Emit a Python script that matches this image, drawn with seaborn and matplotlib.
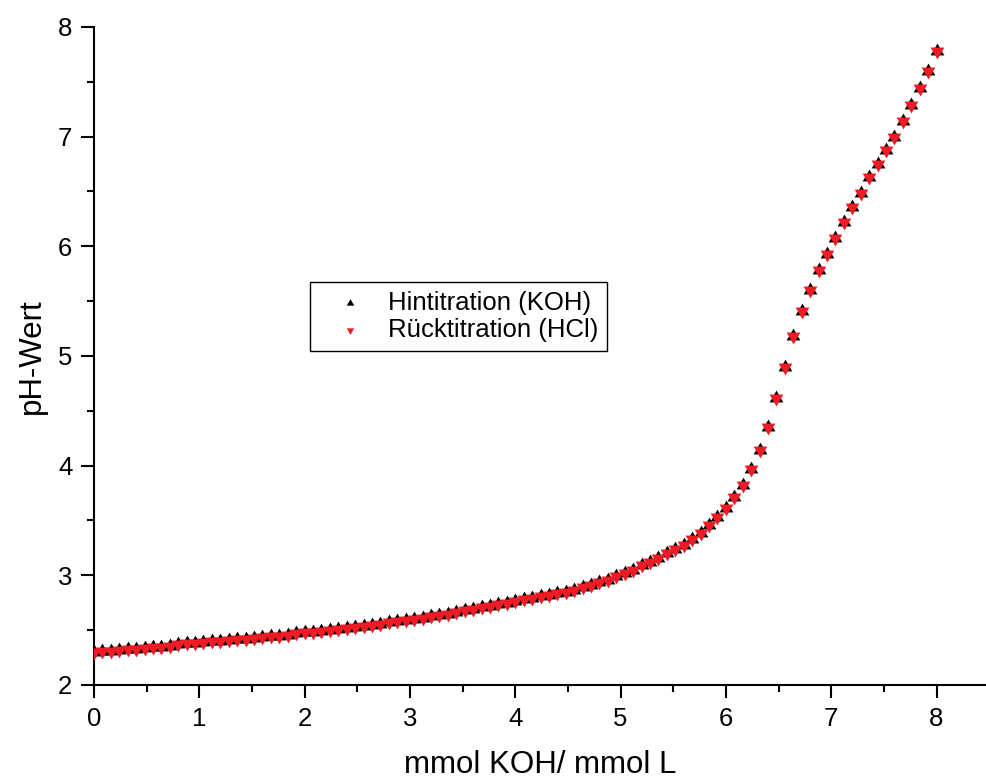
import numpy as np
import pandas as pd
import matplotlib
matplotlib.use("Agg")
import matplotlib.pyplot as plt
from matplotlib.markers import MarkerStyle
from matplotlib.ticker import MultipleLocator
import seaborn as sns

# mmol KOH / mmol L (Schrittweite 0.08)
menge = [0.00, 0.08, 0.16, 0.24, 0.32, 0.40, 0.48, 0.56, 0.64, 0.72,
         0.80, 0.88, 0.96, 1.04, 1.12, 1.20, 1.28, 1.36, 1.44, 1.52,
         1.60, 1.68, 1.76, 1.84, 1.92, 2.00, 2.08, 2.16, 2.24, 2.32,
         2.40, 2.48, 2.56, 2.64, 2.72, 2.80, 2.88, 2.96, 3.04, 3.12,
         3.20, 3.28, 3.36, 3.44, 3.52, 3.60, 3.68, 3.76, 3.84, 3.92,
         4.00, 4.08, 4.16, 4.24, 4.32, 4.40, 4.48, 4.56, 4.64, 4.72,
         4.80, 4.88, 4.96, 5.04, 5.12, 5.20, 5.28, 5.36, 5.44, 5.52,
         5.60, 5.68, 5.76, 5.84, 5.92, 6.00, 6.08, 6.16, 6.24, 6.32,
         6.40, 6.48, 6.56, 6.64, 6.72, 6.80, 6.88, 6.96, 7.04, 7.12,
         7.20, 7.28, 7.36, 7.44, 7.52, 7.60, 7.68, 7.76, 7.84, 7.92,
         8.00]

# pH Hintitration (KOH)
ph_hin = [2.30, 2.31, 2.31, 2.32, 2.33, 2.33, 2.34, 2.35, 2.35, 2.36,
          2.37, 2.38, 2.38, 2.39, 2.40, 2.40, 2.41, 2.42, 2.42, 2.43,
          2.44, 2.45, 2.45, 2.46, 2.47, 2.48, 2.48, 2.49, 2.50, 2.51,
          2.52, 2.53, 2.54, 2.55, 2.56, 2.57, 2.58, 2.59, 2.60, 2.61,
          2.63, 2.64, 2.65, 2.67, 2.68, 2.69, 2.71, 2.72, 2.74, 2.75,
          2.77, 2.78, 2.79, 2.81, 2.82, 2.84, 2.85, 2.87, 2.89, 2.91,
          2.94, 2.96, 2.99, 3.02, 3.05, 3.09, 3.12, 3.16, 3.20, 3.24,
          3.28, 3.33, 3.39, 3.46, 3.53, 3.61, 3.71, 3.82, 3.97, 4.14,
          4.35, 4.62, 4.90, 5.18, 5.41, 5.60, 5.78, 5.93, 6.08, 6.22,
          6.36, 6.49, 6.63, 6.75, 6.88, 7.00, 7.14, 7.29, 7.44, 7.60,
          7.78]

# pH Rücktitration (HCl)
ph_rueck = [2.30, 2.31, 2.31, 2.32, 2.33, 2.33, 2.34, 2.35, 2.35, 2.36,
            2.37, 2.38, 2.38, 2.39, 2.40, 2.40, 2.41, 2.42, 2.42, 2.43,
            2.44, 2.45, 2.45, 2.46, 2.47, 2.48, 2.48, 2.49, 2.50, 2.51,
            2.52, 2.53, 2.54, 2.55, 2.56, 2.57, 2.58, 2.59, 2.60, 2.61,
            2.63, 2.64, 2.65, 2.67, 2.68, 2.69, 2.71, 2.72, 2.74, 2.75,
            2.77, 2.78, 2.79, 2.81, 2.82, 2.84, 2.85, 2.87, 2.89, 2.91,
            2.94, 2.96, 2.99, 3.02, 3.05, 3.09, 3.12, 3.16, 3.20, 3.24,
            3.28, 3.33, 3.39, 3.46, 3.53, 3.61, 3.71, 3.82, 3.97, 4.14,
            4.35, 4.62, 4.90, 5.18, 5.41, 5.60, 5.78, 5.93, 6.08, 6.22,
            6.36, 6.49, 6.63, 6.75, 6.88, 7.00, 7.14, 7.29, 7.44, 7.60,
            7.78]

label_hin = "Hintitration (KOH)"
label_rueck = "Rücktitration (HCl)"

sns.set_style("ticks")
plt.rcParams['font.family'] = ['Liberation Sans', 'DejaVu Sans']
plt.rcParams['text.color'] = 'black'
plt.rcParams['axes.labelcolor'] = 'black'
plt.rcParams['xtick.color'] = 'black'
plt.rcParams['ytick.color'] = 'black'

fig = plt.figure(figsize=(9.86, 7.8), dpi=100)
ax = fig.add_axes([0.0953, 0.1218, 0.9047, 0.8436])

# Dreiecke um den Schwerpunkt zentriert (wie in Origin)
h = np.sqrt(3) / 2
tri_up = MarkerStyle([(0, 2 * h / 3), (-0.5, -h / 3), (0.5, -h / 3), (0, 2 * h / 3)])
tri_down = MarkerStyle([(0, -2 * h / 3), (-0.5, h / 3), (0.5, h / 3), (0, -2 * h / 3)])

sns.scatterplot(x=menge, y=ph_hin, marker=tri_up, color="black",
                s=130, linewidth=0, ax=ax, label=label_hin, zorder=3)
sns.scatterplot(x=menge, y=ph_rueck, marker=tri_down, color="#ED1C24",
                s=130, linewidth=0, ax=ax, label=label_rueck, zorder=4)

ax.set_xlim(0, 8.47)
ax.set_ylim(2, 8)
ax.xaxis.set_major_locator(MultipleLocator(1))
ax.xaxis.set_minor_locator(MultipleLocator(0.5))
ax.yaxis.set_major_locator(MultipleLocator(1))
ax.yaxis.set_minor_locator(MultipleLocator(0.5))

for side in ["top", "right"]:
    ax.spines[side].set_visible(False)
for side in ["left", "bottom"]:
    ax.spines[side].set_linewidth(1.5)
    ax.spines[side].set_color("black")

ax.tick_params(which="major", direction="out", length=9.5, width=1.5,
               labelsize=18.5, pad=6)
ax.tick_params(which="minor", direction="out", length=5, width=1.5)

ax.set_xlabel("mmol KOH/ mmol L", fontsize=22.5, labelpad=14)
ax.set_ylabel("pH-Wert", fontsize=22.5, labelpad=8)

leg = ax.legend(loc="upper left", bbox_to_anchor=(0.242, 0.6125),
                borderaxespad=0, fontsize=18.5, markerscale=0.55,
                handlelength=2.45, handletextpad=0.24, borderpad=0.35,
                labelspacing=0.12, fancybox=False, framealpha=1,
                edgecolor="black")
leg.get_frame().set_linewidth(1.0)

fig.savefig("out.png", dpi=100)
